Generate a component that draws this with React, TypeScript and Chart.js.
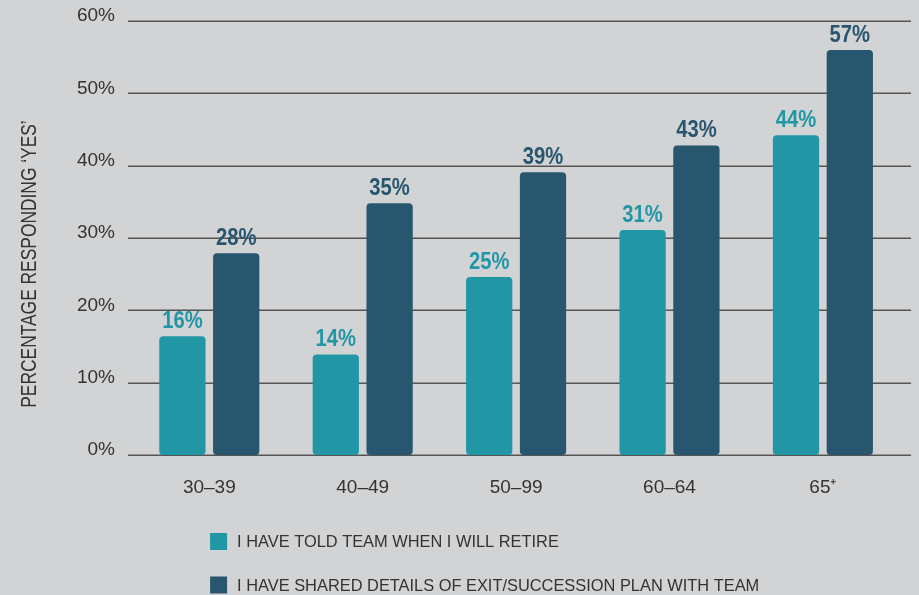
import React, { useEffect, useRef } from "react";
import { Chart, registerables } from "chart.js";

Chart.register(...registerables);

const categories = ["30–39", "40–49", "50–99", "60–64", "65⁺"];
const toldValues = [16.4, 13.9, 24.6, 31.1, 44.2];
const sharedValues = [27.9, 34.8, 39.1, 42.8, 56.0];
const toldLabels = ["16%", "14%", "25%", "31%", "44%"];
const sharedLabels = ["28%", "35%", "39%", "43%", "57%"];
const seriesNames = [
  "I HAVE TOLD TEAM WHEN I WILL RETIRE",
  "I HAVE SHARED DETAILS OF EXIT/SUCCESSION PLAN WITH TEAM",
];
const yTitle = "PERCENTAGE RESPONDING ‘YES’";
const yMin = 0;
const yMax = 60;
const yStep = 10;

const BG = "#d2d3d5";
const TEAL = "#2197a5";
const NAVY = "#27566e";
const TEXT = "#333333";
const GRID = "#555555";

const labelFont = "bold 23px 'Liberation Sans', sans-serif";

function condensedText(ctx: any, text: string, x: number, y: number, sx: number) {
  ctx.save();
  ctx.translate(x, y);
  ctx.scale(sx, 1);
  ctx.fillText(text, 0, 0);
  ctx.restore();
}

const customPlugin = {
  id: "custom",
  beforeDraw(chart: any) {
    const { ctx } = chart;
    ctx.save();
    ctx.fillStyle = BG;
    ctx.fillRect(0, 0, chart.width, chart.height);
    ctx.restore();
  },
  beforeDatasetsDraw(chart: any) {
    const { ctx } = chart;
    const y = chart.scales.y;
    ctx.save();
    ctx.strokeStyle = GRID;
    ctx.lineWidth = 1.5;
    for (let v = yMin; v <= yMax; v += yStep) {
      const py = Math.round(y.getPixelForValue(v)) + 0.25;
      ctx.beginPath();
      ctx.moveTo(128, py);
      ctx.lineTo(911, py);
      ctx.stroke();
    }
    ctx.restore();
  },
  afterDatasetsDraw(chart: any) {
    const { ctx } = chart;
    const labelSets = [toldLabels, sharedLabels];
    ctx.save();
    ctx.font = labelFont;
    ctx.textAlign = "center";
    ctx.textBaseline = "alphabetic";
    chart.data.datasets.forEach((ds: any, di: number) => {
      const meta = chart.getDatasetMeta(di);
      ctx.fillStyle = ds.backgroundColor;
      meta.data.forEach((bar: any, i: number) => {
        condensedText(ctx, labelSets[di][i], bar.x, bar.y - 8, 0.88);
      });
    });
    ctx.restore();
  },
  afterDraw(chart: any) {
    const { ctx, chartArea } = chart;
    ctx.save();
    // y axis title
    ctx.font = "22px 'Liberation Sans', sans-serif";
    ctx.fillStyle = TEXT;
    ctx.textAlign = "center";
    ctx.textBaseline = "middle";
    ctx.translate(30, 264);
    ctx.rotate(-Math.PI / 2);
    ctx.scale(0.79, 1);
    ctx.fillText(yTitle, 0, 0);
    ctx.restore();

    // legend
    ctx.save();
    ctx.font = "16.4px 'Liberation Sans', sans-serif";
    ctx.textAlign = "left";
    ctx.textBaseline = "middle";
    const lx = chartArea.left + 77.5;
    const rows = [541.5, 585];
    chart.data.datasets.forEach((ds: any, di: number) => {
      const cy = rows[di];
      ctx.fillStyle = ds.backgroundColor;
      ctx.fillRect(lx, cy - 8.5, 17, 17);
      ctx.fillStyle = TEXT;
      ctx.fillText(seriesNames[di], lx + 27, cy + 1);
    });
    ctx.restore();
  },
};

export default function App() {
  const canvasRef = useRef<HTMLCanvasElement | null>(null);

  useEffect(() => {
    document.body.style.margin = "0";
    const canvas = canvasRef.current;
    if (!canvas) return;
    const chart = new Chart(canvas, {
      type: "bar",
      data: {
        labels: categories,
        datasets: [
          {
            label: seriesNames[0],
            data: toldValues,
            backgroundColor: TEAL,
            borderRadius: 4,
            borderSkipped: false,
            categoryPercentage: 0.7014,
            barPercentage: 0.86,
          },
          {
            label: seriesNames[1],
            data: sharedValues,
            backgroundColor: NAVY,
            borderRadius: 4,
            borderSkipped: false,
            categoryPercentage: 0.7014,
            barPercentage: 0.86,
          },
        ],
      },
      options: {
        animation: false,
        responsive: false,
        maintainAspectRatio: false,
        layout: { padding: { left: 0, right: 19.4, top: 21, bottom: 80 } },
        plugins: {
          legend: { display: false },
          tooltip: { enabled: false },
        },
        scales: {
          x: {
            grid: { display: false, drawTicks: false },
            border: { display: false },
            ticks: {
              color: TEXT,
              font: { family: "'Liberation Sans', sans-serif", size: 19 },
              padding: 21,
              maxRotation: 0,
            },
            afterFit(scale: any) {
              scale.height = 60;
              scale.paddingLeft = 0;
              scale.paddingRight = 0;
            },
          },
          y: {
            min: yMin,
            max: yMax,
            grid: { display: false, drawTicks: false },
            border: { display: false },
            ticks: {
              stepSize: yStep,
              color: TEXT,
              font: { family: "'Liberation Sans', sans-serif", size: 19 },
              padding: 17.6,
              labelOffset: -5,
              callback: (v: any) => v + "%",
            },
            afterFit(scale: any) {
              scale.width = 132.6;
              scale.paddingTop = 0;
              scale.paddingBottom = 0;
            },
          },
        },
      },
      plugins: [customPlugin],
    });
    return () => chart.destroy();
  }, []);

  return (
    <div style={{ width: 919, height: 595, background: BG }}>
      <canvas ref={canvasRef} width={919} height={595} style={{ display: "block" }} />
    </div>
  );
}
